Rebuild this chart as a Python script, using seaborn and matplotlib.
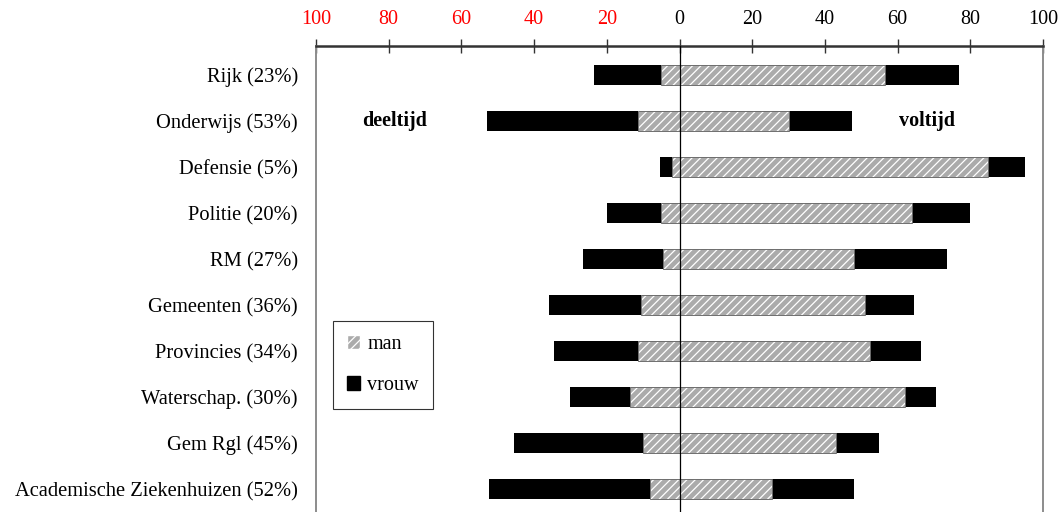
import matplotlib
matplotlib.use("Agg")
import matplotlib.pyplot as plt
import matplotlib.patches as mpatches
import pandas as pd
import seaborn as sns

# Categories (top to bottom) and percentages
categories = ["Rijk (23%)", "Onderwijs (53%)", "Defensie (5%)", "Politie (20%)",
              "RM (27%)", "Gemeenten (36%)", "Provincies (34%)",
              "Waterschap. (30%)", "Gem Rgl (45%)",
              "Academische Ziekenhuizen (52%)"]

# deeltijd (part-time) shares, drawn to the left
deeltijd_man = [5, 11.5, 2, 5, 4.5, 10.5, 11.5, 13.5, 10, 8]
deeltijd_vrouw = [18.5, 41.5, 3.5, 15, 22, 25.5, 23, 16.5, 35.5, 44.5]

# voltijd (full-time) shares, drawn to the right
voltijd_man = [56.5, 30, 85, 64, 48, 51, 52.5, 62, 43, 25.5]
voltijd_vrouw = [20.5, 17.5, 10, 16, 25.5, 13.5, 14, 8.5, 12, 22.5]

tick_values = [-100, -80, -60, -40, -20, 0, 20, 40, 60, 80, 100]
tick_labels = ["100", "80", "60", "40", "20", "0", "20", "40", "60", "80", "100"]

sns.set_theme(style="white")
plt.rcParams["font.family"] = ["Liberation Serif", "DejaVu Serif"]
plt.rcParams["hatch.linewidth"] = 0.9
plt.rcParams["text.color"] = "black"
plt.rcParams["xtick.labelcolor"] = "black"
plt.rcParams["ytick.labelcolor"] = "black"

df = pd.DataFrame({
    "cat": categories,
    "dt_man": [-v for v in deeltijd_man],
    "dt_tot": [-(m + v) for m, v in zip(deeltijd_man, deeltijd_vrouw)],
    "vt_man": voltijd_man,
    "vt_tot": [m + v for m, v in zip(voltijd_man, voltijd_vrouw)],
})

fig = plt.figure(figsize=(10.59, 5.12), dpi=100)
ax = fig.add_axes([316 / 1059, -0.009, (1043 - 316) / 1059, 0.919])

bar_w = 0.42
grey = "#ababab"
fs = 14.5

# stacked: full (black, vrouw) first, then man on top of it
for col in ["dt_tot", "vt_tot"]:
    sns.barplot(data=df, x=col, y="cat", orient="h", color="black",
                width=bar_w, linewidth=0, saturation=1, ax=ax)
for col in ["dt_man", "vt_man"]:
    sns.barplot(data=df, x=col, y="cat", orient="h", color=grey,
                width=bar_w, saturation=1, edgecolor="white", linewidth=0,
                hatch="////", ax=ax)
    sns.barplot(data=df, x=col, y="cat", orient="h", color="#6e6e6e",
                width=bar_w, fill=False, linewidth=0.7, ax=ax)

ax.axvline(0, color="black", lw=0.9, zorder=6)

ax.set_xlim(-100, 100)
ax.set_ylim(9.6, -0.63)
ax.set_xlabel("")
ax.set_ylabel("")

ax.xaxis.tick_top()
ax.set_xticks(tick_values)
ax.set_xticklabels(tick_labels, fontsize=fs)
for lab in ax.get_xticklabels()[:5]:
    lab.set_color("red")
ax.tick_params(axis="x", direction="inout", length=10, width=1.0,
               color="#333333", pad=7, top=True, bottom=False)
ax.tick_params(axis="y", length=0, pad=13, labelsize=14.8)

for side in ["left", "right"]:
    ax.spines[side].set_color("#8c8c8c")
    ax.spines[side].set_linewidth(1.4)
ax.spines["top"].set_color("#333333")
ax.spines["top"].set_linewidth(1.8)
ax.spines["bottom"].set_visible(False)

ax.text(-78.5, 1, "deeltijd", fontsize=fs, fontweight="bold",
        ha="center", va="center")
ax.text(68, 1, "voltijd", fontsize=fs, fontweight="bold",
        ha="center", va="center")

handles = [
    mpatches.Patch(facecolor=grey, edgecolor="white", hatch="////", label="man"),
    mpatches.Patch(facecolor="black", edgecolor="black", label="vrouw"),
]
leg = ax.legend(handles=handles, loc="upper left",
                bbox_to_anchor=(333 / 1059, 1 - 321 / 512),
                bbox_transform=fig.transFigure, fontsize=fs,
                frameon=True, fancybox=False, edgecolor="black",
                handlelength=0.65, handleheight=0.65, handletextpad=0.35,
                labelspacing=1.1, borderpad=0.7, borderaxespad=0)
leg.get_frame().set_linewidth(0.8)

fig.savefig("out.png", dpi=100)
